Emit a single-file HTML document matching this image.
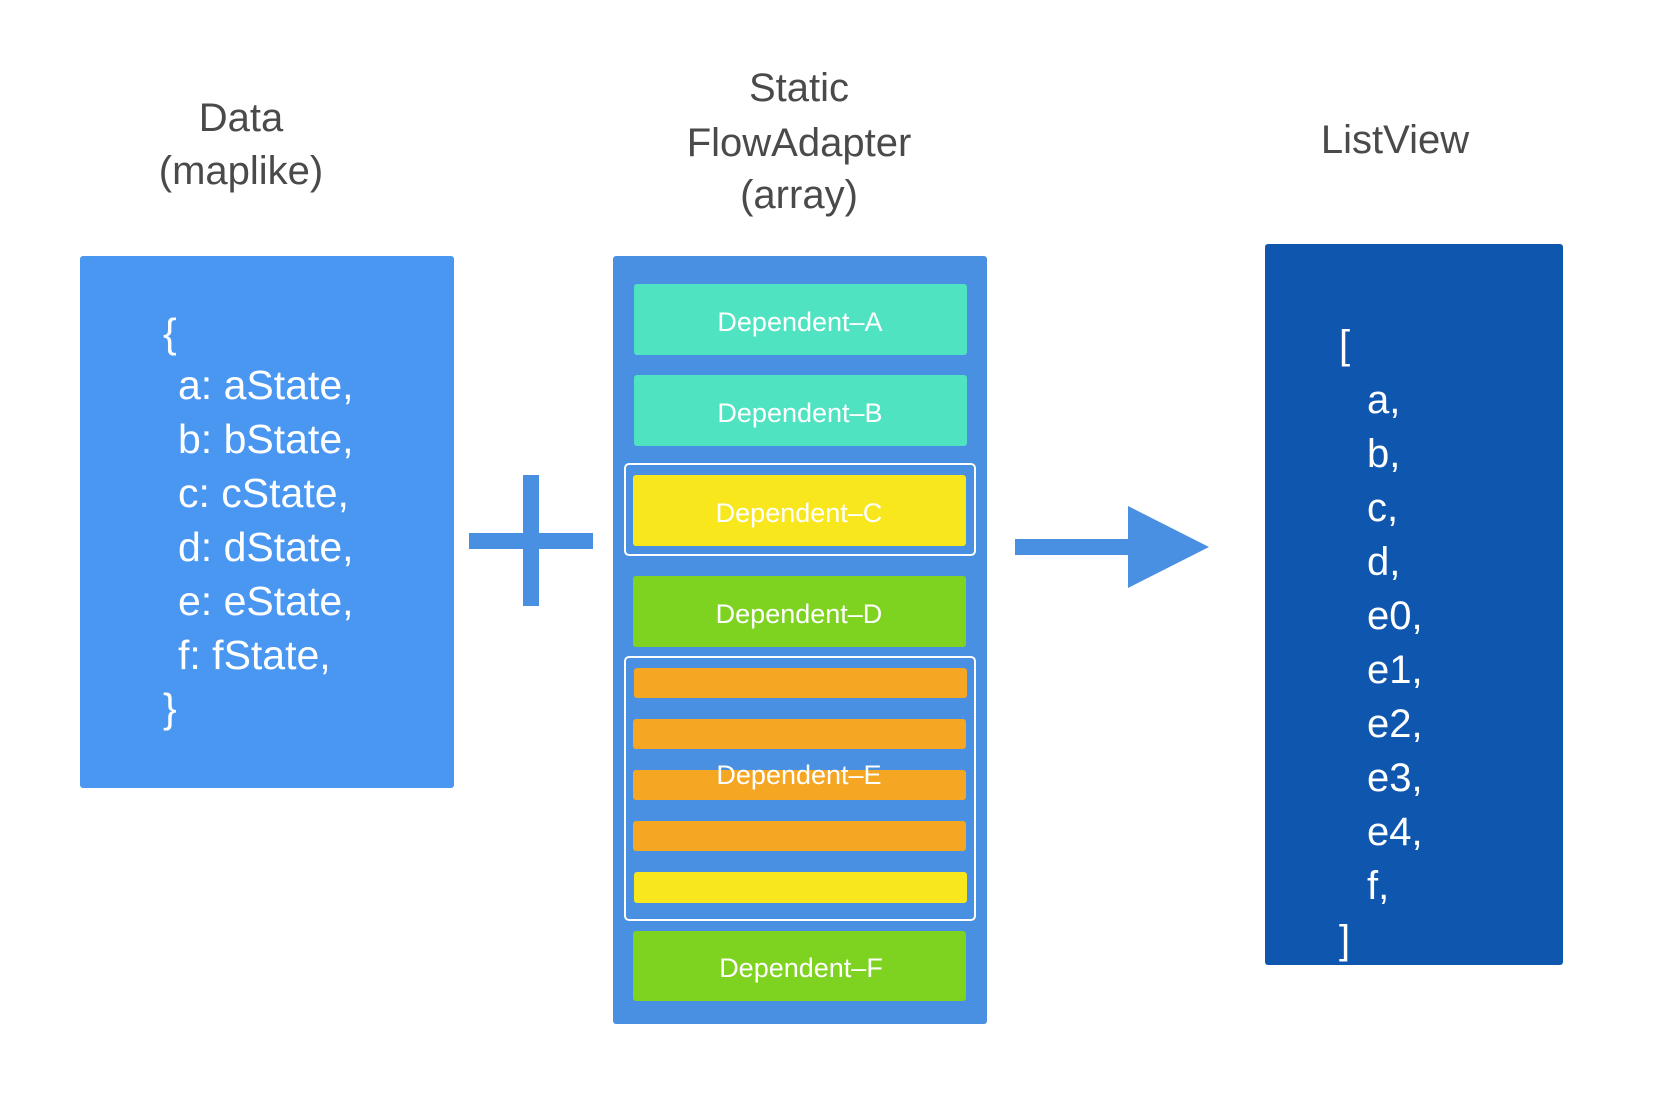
<!DOCTYPE html>
<html><head><meta charset="utf-8"><style>
html,body{margin:0;padding:0;background:#fff;}
svg{display:block;}
text{font-family:"Liberation Sans",sans-serif;}
</style></head><body>
<svg width="1666" height="1104" viewBox="0 0 1666 1104" xmlns="http://www.w3.org/2000/svg">
<rect width="1666" height="1104" fill="#fff"/>
<g fill="#4a4a4a" font-size="40" text-anchor="middle">
<text x="241" y="131">Data</text>
<text x="241" y="184">(maplike)</text>
<text x="799" y="101">Static</text>
<text x="799" y="156">FlowAdapter</text>
<text x="799" y="208">(array)</text>
<text x="1395" y="153">ListView</text>
</g>
<rect x="80" y="256" width="374" height="532" rx="3" fill="#4A97F2"/>
<g fill="#fff" font-size="41">
<text x="163" y="347">{</text>
<text x="178" y="399">a: aState,</text>
<text x="178" y="453">b: bState,</text>
<text x="178" y="507">c: cState,</text>
<text x="178" y="561">d: dState,</text>
<text x="178" y="615">e: eState,</text>
<text x="178" y="669">f: fState,</text>
<text x="163" y="722">}</text>
</g>
<rect x="469" y="533" width="124" height="16" fill="#4A90E2"/>
<rect x="523" y="475" width="16" height="131" fill="#4A90E2"/>
<rect x="613" y="256" width="374" height="768" rx="3" fill="#4A90E2"/>
<rect x="634" y="284" width="333" height="71" rx="3" fill="#50E3C2"/>
<rect x="634" y="375" width="333" height="71" rx="3" fill="#50E3C2"/>
<rect x="625" y="464" width="350" height="91" rx="4" fill="none" stroke="#fff" stroke-width="2"/>
<rect x="633" y="475" width="333" height="71" rx="3" fill="#F8E71C"/>
<rect x="633" y="576" width="333" height="71" rx="3" fill="#7ED321"/>
<rect x="625" y="657" width="350" height="263" rx="4" fill="none" stroke="#fff" stroke-width="2"/>
<rect x="634" y="668" width="333" height="30" rx="3" fill="#F5A623"/>
<rect x="633" y="719" width="333" height="30" rx="3" fill="#F5A623"/>
<rect x="633" y="770" width="333" height="30" rx="3" fill="#F5A623"/>
<rect x="633" y="821" width="333" height="30" rx="3" fill="#F5A623"/>
<rect x="634" y="872" width="333" height="31" rx="3" fill="#F8E71C"/>
<rect x="633" y="931" width="333" height="70" rx="3" fill="#7ED321"/>
<g fill="#fff" font-size="27" text-anchor="middle">
<text x="800" y="331">Dependent–A</text>
<text x="800" y="422">Dependent–B</text>
<text x="799" y="522">Dependent–C</text>
<text x="799" y="623">Dependent–D</text>
<text x="799" y="784">Dependent–E</text>
<text x="801" y="977">Dependent–F</text>
</g>
<rect x="1015" y="539" width="114" height="16" fill="#4A90E2"/>
<polygon points="1128,506 1209,547 1128,588" fill="#4A90E2"/>
<rect x="1265" y="244" width="298" height="721" rx="3" fill="#0F57AE"/>
<g fill="#fff" font-size="40">
<text x="1339" y="358">[</text>
<text x="1367" y="413">a,</text>
<text x="1367" y="467">b,</text>
<text x="1367" y="521">c,</text>
<text x="1367" y="575">d,</text>
<text x="1367" y="629">e0,</text>
<text x="1367" y="683">e1,</text>
<text x="1367" y="737">e2,</text>
<text x="1367" y="791">e3,</text>
<text x="1367" y="845">e4,</text>
<text x="1367" y="899">f,</text>
<text x="1339" y="953">]</text>
</g>
</svg>
</body></html>
